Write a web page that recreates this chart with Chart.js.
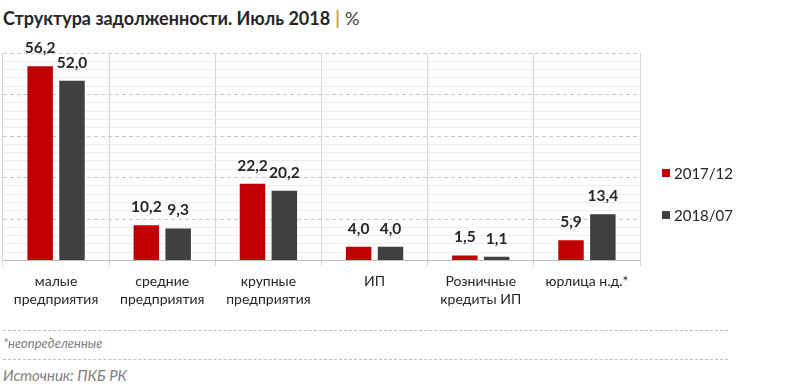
<!DOCTYPE html>
<html><head><meta charset="utf-8">
<script src="https://cdn.jsdelivr.net/npm/chart.js@4/dist/chart.umd.min.js"></script>
<style>
html,body{margin:0;padding:0;background:#fff;width:800px;height:388px;overflow:hidden;font-family:Lato,"Noto Sans",sans-serif;}
#title{position:absolute;left:3px;top:7px;font-size:18px;font-weight:bold;color:#262626;white-space:nowrap;}
#title .bar{color:#c9a24a;font-weight:bold;margin:0 5px;}
#title .unit{color:#404040;font-weight:normal;}
#wrap{position:absolute;left:0;top:0;width:800px;height:317px;}
#legend{position:absolute;left:662px;top:162px;}
.li{position:relative;height:42px;font-size:15px;color:#262626;}
.li span.sw{position:absolute;left:0;top:7px;width:8px;height:8px;}
.li span.tx{position:absolute;left:12px;top:0;line-height:22px;}
.dash{position:absolute;left:3px;width:725px;border-top:1px dashed #bfbfbf;height:0;}
.note{position:absolute;left:3px;font-style:italic;color:#7f7f7f;white-space:nowrap;}
</style></head>
<body>
<div id="title">Структура задолженности. Июль 2018<span class="bar">|</span><span class="unit">%</span></div>
<div id="wrap"><canvas id="c" width="800" height="317"></canvas></div>
<div id="legend"></div>
<div class="dash" style="top:330px"></div>
<div class="note" style="top:335px;font-size:13px;">*неопределенные</div>
<div class="dash" style="top:359px"></div>
<div class="note" style="top:366px;font-size:15px;">Источник: ПКБ РК</div>
<script>
const categories = [
  ['малые','предприятия'],
  ['средние','предприятия'],
  ['крупные','предприятия'],
  ['ИП'],
  ['Розничные','кредиты ИП'],
  ['юрлица н.д.*']
];
const seriesNames = ['2017/12','2018/07'];
const values2017 = [56.2, 10.2, 22.2, 4.0, 1.5, 5.9];
const values2018 = [52.0, 9.3, 20.2, 4.0, 1.1, 13.4];
const seriesColors = ['#c00000','#404040'];
const yMax = 60;
const majorStep = 12;
const minorStep = 2.4;

// HTML legend built from series arrays
const lg = document.getElementById('legend');
seriesNames.forEach((n,i)=>{
  const d=document.createElement('div');d.className='li';
  d.innerHTML='<span class="sw" style="background:'+seriesColors[i]+'"></span><span class="tx">'+n+'</span>';
  lg.appendChild(d);
});

const labelPlugin = {
  id:'vals',
  afterDatasetsDraw(chart){
    const ctx=chart.ctx;
    ctx.save();
    ctx.font='bold 15.5px Lato, "Noto Sans", sans-serif';
    ctx.fillStyle='#262626';
    ctx.textAlign='center';
    ctx.textBaseline='middle';
    chart.data.datasets.forEach((ds,di)=>{
      chart.getDatasetMeta(di).data.forEach((el,i)=>{
        ctx.fillText(ds.data[i].toFixed(1).replace('.',','), el.x, el.y-18);
      });
    });
    ctx.restore();
  }
};

const isMajor = v => Math.abs(v/majorStep - Math.round(v/majorStep)) < 1e-6;

new Chart(document.getElementById('c'),{
  type:'bar',
  data:{
    labels:categories,
    datasets:[
      {label:seriesNames[0],data:values2017,backgroundColor:seriesColors[0],categoryPercentage:0.6,barPercentage:0.8},
      {label:seriesNames[1],data:values2018,backgroundColor:seriesColors[1],categoryPercentage:0.6,barPercentage:0.8}
    ]
  },
  options:{
    responsive:false,
    animation:false,
    layout:{padding:{left:3,right:160,top:53,bottom:2}},
    plugins:{legend:{display:false},tooltip:{enabled:false},title:{display:false}},
    scales:{
      x:{
        grid:{offset:true,color:'#d6d6d6',lineWidth:1,tickLength:6,tickColor:'#d6d6d6'},
        border:{display:true,color:'#bfbfbf',width:1},
        ticks:{color:'#262626',font:{family:'Lato, "Noto Sans", sans-serif',size:14,lineHeight:1.3},padding:6,maxRotation:0,autoSkip:false}
      },
      y:{
        min:0,max:yMax,
        ticks:{display:false,stepSize:minorStep},
        grid:{drawTicks:false,color:ctx=>isMajor(ctx.tick.value)?'rgba(0,0,0,0)':'#ededed',lineWidth:1},
        border:{display:false}
      },
      yMajor:{
        position:'left',min:0,max:yMax,
        ticks:{display:false,stepSize:majorStep},
        grid:{drawTicks:false,color:ctx=>ctx.tick.value===0?'rgba(0,0,0,0)':'#c8c8c8',lineWidth:1},
        border:{display:false,dash:[4,3]}
      }
    }
  },
  plugins:[labelPlugin]
});
</script>
</body></html>
